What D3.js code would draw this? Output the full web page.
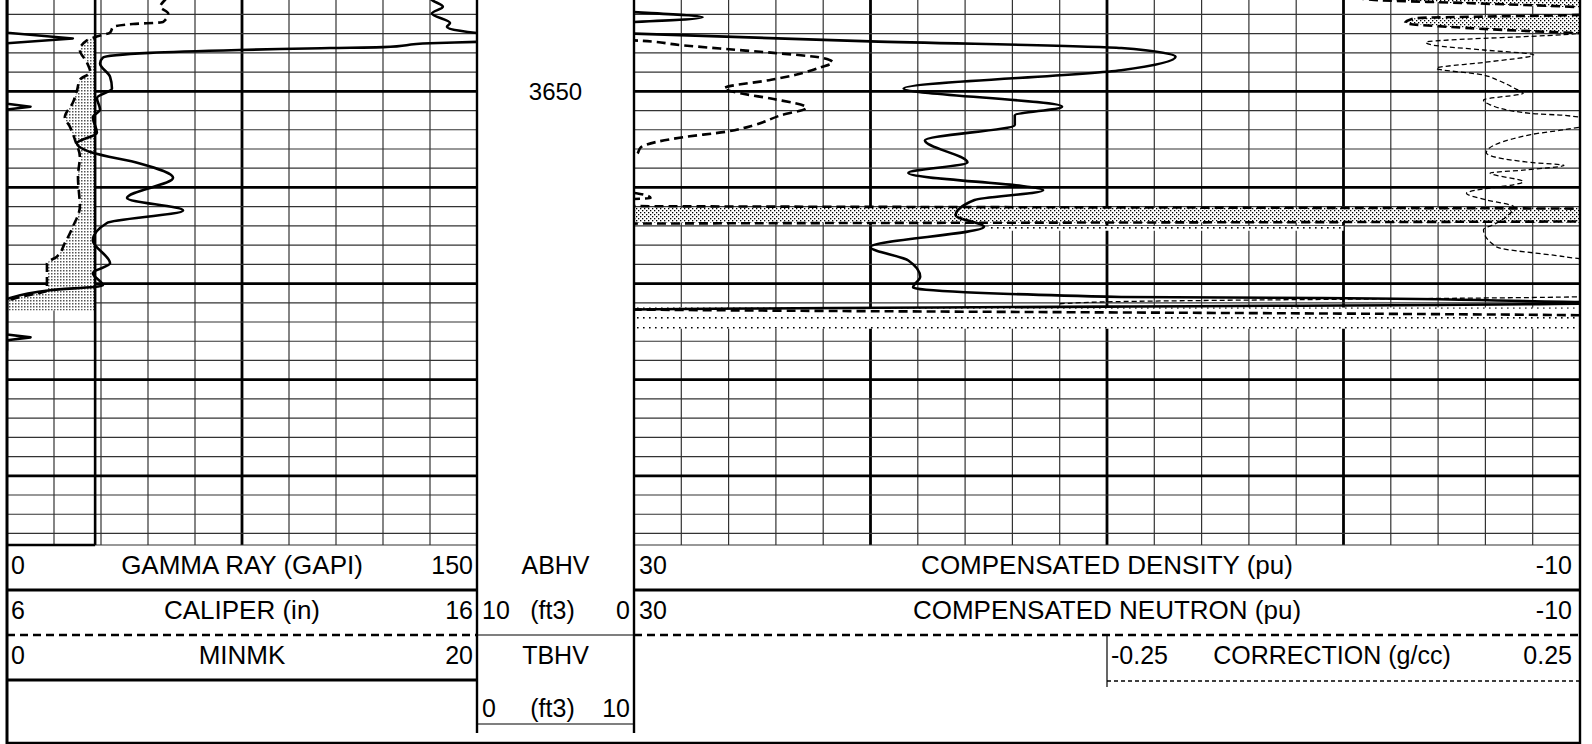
<!DOCTYPE html>
<html>
<head>
<meta charset="utf-8">
<script src="https://cdn.jsdelivr.net/npm/d3@7"></script>
<style>
  html, body { margin: 0; padding: 0; background: #fff; }
  svg { display: block; font-family: 'Liberation Sans', Arial, sans-serif; }
  .grid-thin { stroke: #333; stroke-width: 1.2; }
  .grid-thick { stroke: #000; stroke-width: 2.8; }
  .hdr { font-size: 25px; fill: #000; }
  .hdr.title { font-size: 26px; }
</style>
</head>
<body>
<div id="log"></div>
<script>
'use strict'

const WIDTH = 1592
const HEIGHT = 744
const depthDomain = [3640.5, 3697.2]
const depthLabels = [3650]

// track 1 curves
const grDepth = [3640.3, 3640.5, 3641.2, 3641.9, 3642.9, 3643.3, 3643.7, 3643.95, 3644.4, 3644.85, 3645.0, 3645.4, 3645.5, 3645.6, 3645.7, 3646.0, 3646.5, 3647.1, 3648.5, 3649.7, 3650.7, 3651.9, 3652.7, 3654.3, 3655.4, 3656.4, 3657.5, 3659.0, 3661.1, 3662.4, 3663.7, 3665.5, 3667.9, 3668.9, 3670.2, 3670.7, 3671.5, 3672.0]
const grValue = [135, 135.6, 139.1, 135.6, 141.4, 140.4, 144.6, 150.5, 168, 150.5, 135, 120, 103, 87, 74, 45.6, 30.6, 29.7, 32.9, 33.5, 28.7, 29.7, 27.4, 28.7, 22.3, 27.4, 42.4, 53.0, 38.3, 56.2, 31.9, 27.4, 32.9, 27.4, 30.6, 13.7, 1.0, -2]

const calDepth = [3640.3, 3640.5, 3641.2, 3641.9, 3642.8, 3643.0, 3643.3, 3643.9, 3644.3, 3644.7, 3645.7, 3647.0, 3648.0, 3648.8, 3649.9, 3651.2, 3652.7, 3653.7, 3655.1, 3656.8, 3658.9, 3662.0, 3664.1, 3665.8, 3667.2, 3667.9, 3670.7, 3671.4, 3671.8, 3672.8]
const calValue = [9.4, 9.36, 9.26, 9.43, 9.32, 8.68, 8.26, 8.19, 7.91, 7.70, 7.55, 7.70, 7.77, 7.55, 7.49, 7.40, 7.23, 7.34, 7.45, 7.55, 7.51, 7.55, 7.40, 7.23, 7.06, 6.85, 6.85, 6.28, 6.02, 5.9]
const bitSize = 7.875

const minDepth = [3640.3, 3643.9, 3644.5, 3645.0, 3651.3, 3651.6, 3651.9, 3675.3, 3675.6, 3675.9, 3677]
const minValue = [0, 0, 2.8, 0, 0, 1.0, 0, 0, 1.0, 0, 0]

// track 2 curves
const denDepth = [3640.3, 3641.6, 3642.3, 3642.9, 3643.2, 3643.6, 3644.0, 3644.8, 3645.5, 3646.4, 3647.8, 3649.7, 3651.6, 3652.5, 3653.5, 3655.1, 3657.4, 3658.5, 3660.3, 3661.3, 3662.9, 3664.1, 3666.2, 3667.6, 3669.3, 3670.4, 3671.4, 3671.5, 3671.9, 3672.0, 3672.8, 3673.2]
const denValue = [35, 31, 27.1, 31, 34, 33, 30.0, 20.0, 9.4, 7.1, 9.4, 18.6, 11.9, 13.9, 13.9, 17.7, 15.9, 18.4, 12.7, 15.6, 16.4, 15.2, 20.0, 18.4, 17.9, 18.2, 9.4, 0.9, -9.3, -12, 32, 32]

const neuDepth = [3640.2, 3640.5, 3640.8, 3641.3, 3641.6, 3641.9, 3642.05, 3642.4, 3642.9, 3643.3, 3643.7, 3644.0, 3644.2, 3644.35, 3644.5, 3644.7, 3645.2, 3645.6, 3646.0, 3646.5, 3647.0, 3647.5, 3648.3, 3648.8, 3649.7, 3650.2, 3650.8, 3651.7, 3652.5, 3653.5, 3654.2, 3654.8, 3655.8, 3656.6, 3657.0, 3660.3, 3660.6, 3661.1, 3661.4, 3661.9, 3662.25, 3663.5, 3663.8, 3672.6, 3673.4, 3673.8]
const neuValue = [-0.5, -1.3, -5, -10.5, -12, -12, -10, -3, -2.6, -4.5, -7.5, -10.5, -12, null, 32, 30.0, 28.0, 26.1, 24.1, 22.1, 21.6, 22.1, 23.2, 24.2, 26.2, 25.5, 24.1, 22.7, 23.8, 24.9, 26.1, 28.0, 29.7, 29.9, 32, 32, 29.9, 29.3, 32, 32, -12, -12, 32, 32, -12, -12]

const corDepth = [3643.7, 3643.9, 3644.1, 3644.9, 3645.2, 3645.7, 3646.2, 3647.0, 3647.6, 3648.3, 3648.8, 3649.8, 3650.2, 3650.9, 3651.4, 3652.3, 3652.5, 3653.2, 3654.0, 3654.5, 3656.4, 3657.4, 3657.7, 3658.2, 3658.5, 3659.4, 3660.6, 3661.3, 3662.0, 3663.8, 3664.4, 3666.2, 3667.2, 3667.8, 3671.3, 3671.9, 3672.1]
const corValue = [0.28, 0.26, 0.233, 0.087, 0.095, 0.148, 0.201, 0.148, 0.098, 0.148, 0.162, 0.183, 0.19, 0.148, 0.155, 0.198, 0.233, 0.27, 0.233, 0.198, 0.151, 0.198, 0.233, 0.19, 0.155, 0.19, 0.13, 0.151, 0.18, 0.16, 0.148, 0.162, 0.233, 0.27, 0.27, -0.25, -0.3]

// stippled fills in track 2 (pu), null splits the bands
const shadeDepth = [3640.2, 3640.5, 3640.8, 3641.3, null, 3642.05, 3642.4, 3642.9, 3643.3, 3643.7, 3644.0, null, 3662.15, 3663.65]
const shadeFrom = [-1, -2, -4.5, -10, null, -10, -3, -2.6, -4.5, -7.5, -10, null, 30, 30]
const shadeTo = [-10, -10, -10, -10, null, -10, -10, -10, -10, -10, -10, null, -10, -10]
const sparseDepth = [3664.0, 3664.5, null, 3672.5, 3674.7]
const sparseFrom = [15, 15, null, 30, 30]
const sparseTo = [0, 0, null, -10, -10]

// header texts
const leftHeader = [['0', 'GAMMA RAY (GAPI)', '150'], ['6', 'CALIPER (in)', '16'], ['0', 'MINMK', '20']]
const rightHeader = [['30', 'COMPENSATED DENSITY (pu)', '-10'], ['30', 'COMPENSATED NEUTRON (pu)', '-10']]
const correctionHeader = ['-0.25', 'CORRECTION (g/cc)', '0.25']
const depthHeader = ['ABHV', ['10', '(ft3)', '0'], 'TBHV', ['0', '(ft3)', '10']]

const TRACK1 = [7, 477]
const TRACK2 = [634, 1580]
const LOG_BOTTOM = 545
const PAGE_BOTTOM = 743
const rowBase = [574, 619, 664, 717]

const y = d3.scaleLinear().domain(depthDomain).range([0, LOG_BOTTOM])
const xGR = d3.scaleLinear().domain([0, 150]).range(TRACK1)
const xCal = d3.scaleLinear().domain([6, 16]).range(TRACK1)
const xMin = d3.scaleLinear().domain([0, 20]).range(TRACK1)
const xPu = d3.scaleLinear().domain([30, -10]).range(TRACK2)
const xCor = d3.scaleLinear().domain([-0.25, 0.25]).range([xPu(10), TRACK2[1]])

function zip (depths, values) {
  return depths.map((d, i) => ({ d: d, v: values[i] }))
}

const svg = d3.select('#log').append('svg').attr('width', WIDTH).attr('height', HEIGHT)
svg.append('rect').attr('width', WIDTH).attr('height', HEIGHT).attr('fill', '#fff')

const defs = svg.append('defs')
function addPattern (id, w, h, dots, size, color) {
  const p = defs.append('pattern').attr('id', id).attr('patternUnits', 'userSpaceOnUse')
    .attr('width', w).attr('height', h)
  p.append('rect').attr('width', w).attr('height', h).attr('fill', '#fff')
  dots.forEach(([dx, dy]) => {
    p.append('rect').attr('x', dx).attr('y', dy).attr('width', size).attr('height', size).attr('fill', color)
  })
}
addPattern('dotsGray', 3, 3, [[0, 0]], 1.5, '#555')
addPattern('dotsDense', 4, 4, [[0, 0], [2, 2]], 1.3, '#000')
addPattern('dotsSparse', 6, 10, [[1, 7]], 1.6, '#000')

function addClip (id, x0, x1) {
  defs.append('clipPath').attr('id', id).append('rect')
    .attr('x', x0).attr('y', 0).attr('width', x1 - x0).attr('height', LOG_BOTTOM)
}
addClip('clip1', TRACK1[0], TRACK1[1])
addClip('clip2', TRACK2[0], TRACK2[1])

// ---- grids
const gridDepths = d3.range(3642, 3697, 2)
function drawGrid (x0, x1, xs, isThickX) {
  const g = svg.append('g')
  g.selectAll('line.v').data(xs).enter().append('line')
    .attr('class', (d, i) => isThickX(i) ? 'grid-thick' : 'grid-thin')
    .attr('x1', d => d).attr('x2', d => d).attr('y1', 0).attr('y2', LOG_BOTTOM)
  g.selectAll('line.h').data(gridDepths).enter().append('line')
    .attr('class', d => d % 10 === 0 ? 'grid-thick' : 'grid-thin')
    .attr('x1', x0).attr('x2', x1).attr('y1', d => y(d)).attr('y2', d => y(d))
}
drawGrid(TRACK1[0], TRACK1[1], d3.range(1, 10).map(i => xGR(i * 15)), i => i === 4)
drawGrid(TRACK2[0], TRACK2[1], d3.range(1, 20).map(i => xPu(30 - 2 * i)), i => (i + 1) % 5 === 0)
svg.append('line').attr('class', 'grid-thin')
  .attr('x1', TRACK1[0]).attr('x2', TRACK1[1]).attr('y1', LOG_BOTTOM).attr('y2', LOG_BOTTOM)
svg.append('line').attr('class', 'grid-thin')
  .attr('x1', TRACK2[0]).attr('x2', TRACK2[1]).attr('y1', LOG_BOTTOM).attr('y2', LOG_BOTTOM)

// ---- track 1
const t1 = svg.append('g').attr('clip-path', 'url(#clip1)')
const calData = zip(calDepth, calValue)
t1.append('path').datum(calData)
  .attr('fill', 'url(#dotsGray)')
  .attr('d', d3.area().curve(d3.curveMonotoneY)
    .y(p => y(p.d)).x0(p => xCal(Math.min(p.v, bitSize))).x1(xCal(bitSize)))
svg.append('line').attr('stroke', '#000').attr('stroke-width', 2.6)
  .attr('x1', xCal(bitSize)).attr('x2', xCal(bitSize)).attr('y1', 0).attr('y2', LOG_BOTTOM)
svg.append('line').attr('stroke', '#000').attr('stroke-width', 2.6)
  .attr('x1', TRACK1[0]).attr('x2', xCal(bitSize)).attr('y1', LOG_BOTTOM).attr('y2', LOG_BOTTOM)

function curve (g, data, xs, width, dash, smooth) {
  g.append('path').datum(data)
    .attr('fill', 'none').attr('stroke', '#000')
    .attr('stroke-width', width).attr('stroke-dasharray', dash)
    .attr('stroke-linejoin', 'round')
    .attr('d', d3.line().defined(p => p.v !== null)
      .curve(smooth ? d3.curveMonotoneY : d3.curveLinear)
      .x(p => xs(p.v)).y(p => y(p.d)))
}
curve(t1, zip(minDepth, minValue), xMin, 2.6, null, false)
curve(t1, calData, xCal, 2.6, '9,5', true)
curve(t1, zip(grDepth, grValue), xGR, 2.6, null, true)

// ---- track 2
const t2 = svg.append('g').attr('clip-path', 'url(#clip2)')
function band (depths, from, to, fill) {
  t2.append('path').datum(depths.map((d, i) => ({ d: d, a: from[i], b: to[i] })))
    .attr('fill', fill)
    .attr('d', d3.area().defined(p => p.d !== null)
      .y(p => y(p.d)).x0(p => xPu(p.a)).x1(p => xPu(p.b)))
}
band(sparseDepth, sparseFrom, sparseTo, 'url(#dotsSparse)')
band(shadeDepth, shadeFrom, shadeTo, 'url(#dotsDense)')
curve(t2, zip(corDepth, corValue), xCor, 1.3, '5,3', true)
curve(t2, zip(neuDepth, neuValue), xPu, 2.6, '9,5', true)
curve(t2, zip(denDepth, denValue), xPu, 2.6, null, true)

// ---- depth column
svg.selectAll('text.depth').data(depthLabels).enter().append('text')
  .attr('class', 'hdr').attr('text-anchor', 'middle').style('font-size', '24px')
  .attr('x', (TRACK1[1] + TRACK2[0]) / 2).attr('y', d => y(d) + 9)
  .text(d => d)

// ---- frame and header lines
function hline (x1, x2, yy, width, dash) {
  svg.append('line').attr('stroke', '#000').attr('stroke-width', width)
    .attr('stroke-dasharray', dash)
    .attr('x1', x1).attr('x2', x2).attr('y1', yy).attr('y2', yy)
}
function vline (xx, y1, y2, width) {
  svg.append('line').attr('stroke', '#000').attr('stroke-width', width)
    .attr('x1', xx).attr('x2', xx).attr('y1', y1).attr('y2', y2)
}
vline(TRACK1[0], 0, PAGE_BOTTOM + 1, 3)
vline(TRACK2[1], 0, PAGE_BOTTOM + 1, 2.4)
vline(TRACK1[1], 0, 733, 2.4)
vline(TRACK2[0], 0, 733, 2.4)
hline(TRACK1[0], TRACK2[1], PAGE_BOTTOM, 2.6)

hline(TRACK1[0], TRACK1[1], 590, 2.8)
hline(TRACK1[0], TRACK1[1], 635, 2.6, '8,5')
hline(TRACK1[0], TRACK1[1], 680, 2.8)
hline(TRACK1[1], TRACK2[0], 635, 1.2)
hline(TRACK1[1], TRACK2[0], 724, 1.2)
hline(TRACK2[0], TRACK2[1], 590, 2.8)
hline(TRACK2[0], TRACK2[1], 635, 2.6, '8,5')
vline(xPu(10), 635, 687, 1.2)
hline(xPu(10), TRACK2[1], 681, 1.3, '4,3')

// ---- header text
function label (x, yy, anchor, str, cls) {
  svg.append('text').attr('class', 'hdr' + (cls ? ' ' + cls : '')).attr('x', x).attr('y', yy)
    .attr('text-anchor', anchor).text(str)
}
leftHeader.forEach((row, i) => {
  label(TRACK1[0] + 4, rowBase[i], 'start', row[0])
  label((TRACK1[0] + TRACK1[1]) / 2, rowBase[i], 'middle', row[1], 'title')
  label(TRACK1[1] - 4, rowBase[i], 'end', row[2])
})
rightHeader.forEach((row, i) => {
  label(TRACK2[0] + 5, rowBase[i], 'start', row[0])
  label((TRACK2[0] + TRACK2[1]) / 2, rowBase[i], 'middle', row[1], 'title')
  label(TRACK2[1] - 8, rowBase[i], 'end', row[2])
})
label(xPu(10) + 4, rowBase[2], 'start', correctionHeader[0])
label(1332, rowBase[2], 'middle', correctionHeader[1])
label(TRACK2[1] - 8, rowBase[2], 'end', correctionHeader[2])

const depthMid = (TRACK1[1] + TRACK2[0]) / 2
depthHeader.forEach((item, i) => {
  if (typeof item === 'string') {
    label(depthMid, rowBase[i], 'middle', item)
  } else {
    label(TRACK1[1] + 5, rowBase[i], 'start', item[0])
    label(depthMid - 3, rowBase[i], 'middle', item[1])
    label(TRACK2[0] - 4, rowBase[i], 'end', item[2])
  }
})
</script>
</body>
</html>
